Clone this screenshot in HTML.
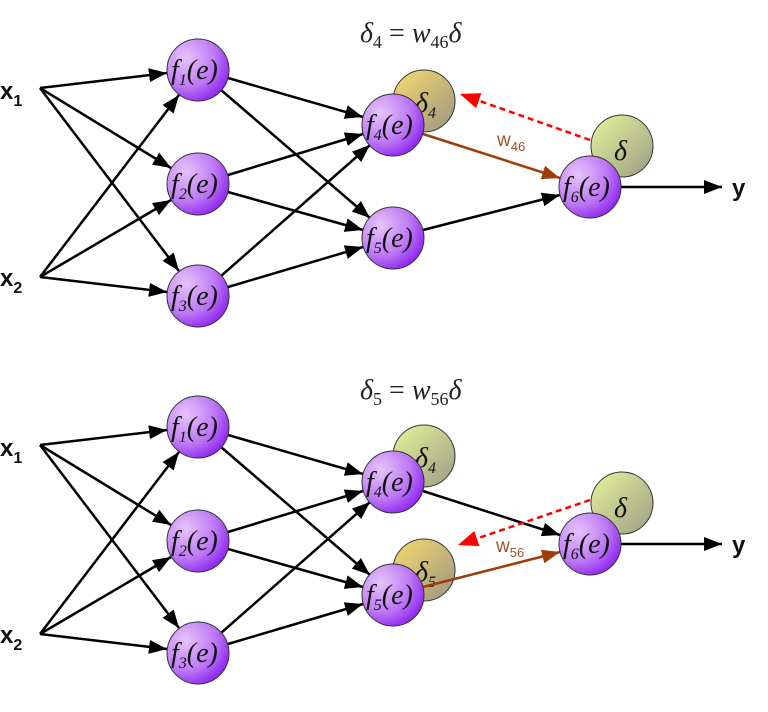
<!DOCTYPE html>
<html><head><meta charset="utf-8"><style>
html,body{margin:0;padding:0;background:#fff;width:768px;height:712px;overflow:hidden}
svg{display:block}
.lbl{font-family:"Liberation Sans",sans-serif;font-weight:bold;font-size:24px;fill:#111}
.sub{font-family:"Liberation Sans",sans-serif;font-size:16px;fill:#111}
.fn{font-family:"Liberation Serif",serif;font-style:italic;font-size:28px;fill:#111}
.fs{font-family:"Liberation Serif",serif;font-style:italic;font-size:16px;fill:#111}
.eq{font-family:"Liberation Serif",serif;font-style:italic;font-size:28px;fill:#222}
.eqs{font-family:"Liberation Serif",serif;font-style:normal;font-size:18px;fill:#222}
.w{font-family:"Liberation Sans",sans-serif;font-size:19px;fill:#a0522d}
.ws{font-family:"Liberation Sans",sans-serif;font-size:13px;fill:#a0522d}
</style></head><body>
<svg width="768" height="712" viewBox="0 0 768 712" xmlns="http://www.w3.org/2000/svg">
<defs>
<radialGradient id="gp" cx="0.3" cy="0.3" r="0.8"><stop offset="0" stop-color="#e6c4fb"/><stop offset="0.6" stop-color="#bd78f4"/><stop offset="1" stop-color="#8a1ff0"/></radialGradient>
<linearGradient id="gy" x1="0" y1="0" x2="1" y2="1"><stop offset="0" stop-color="#f6dc6c"/><stop offset="1" stop-color="#9c9484"/></linearGradient>
<linearGradient id="gg" x1="0" y1="0" x2="1" y2="1"><stop offset="0" stop-color="#e6f49a"/><stop offset="1" stop-color="#9c9c86"/></linearGradient>
<marker id="ab" markerUnits="userSpaceOnUse" markerWidth="20" markerHeight="16" refX="18" refY="7" orient="auto"><path d="M0,0 L18,7 L0,14 z" fill="#000"/></marker>
<marker id="abr" markerUnits="userSpaceOnUse" markerWidth="20" markerHeight="16" refX="18" refY="7" orient="auto"><path d="M0,0 L18,7 L0,14 z" fill="#a03c0a"/></marker>
<marker id="ar" markerUnits="userSpaceOnUse" markerWidth="22" markerHeight="18" refX="20" refY="8" orient="auto"><path d="M0,0 L20,8 L0,16 z" fill="#f00"/></marker>
</defs>

<!-- ===== TOP ===== -->
<text x="360" y="42" class="eq">δ<tspan class="eqs" dy="6">4</tspan><tspan dy="-6" font-style="normal"> = </tspan><tspan>w</tspan><tspan class="eqs" dy="6">46</tspan><tspan dy="-6">δ</tspan></text>
<g stroke="#000" stroke-width="2.5" fill="none" marker-end="url(#ab)">
<line x1="40" y1="88" x2="167" y2="73"/><line x1="40" y1="88" x2="171" y2="168"/><line x1="40" y1="88" x2="179" y2="271"/>
<line x1="40" y1="277" x2="179" y2="95"/><line x1="40" y1="277" x2="171" y2="200"/><line x1="40" y1="277" x2="167" y2="292"/>
<line x1="228" y1="78" x2="363" y2="117"/><line x1="221" y1="90" x2="370" y2="218"/>
<line x1="228" y1="175" x2="363" y2="134"/><line x1="228" y1="192" x2="363" y2="230"/>
<line x1="221" y1="276" x2="370" y2="145"/><line x1="228" y1="287" x2="363" y2="247"/>
<line x1="423" y1="230" x2="560" y2="195"/>
<line x1="621" y1="187" x2="722" y2="187"/>
</g>
<line x1="590" y1="140" x2="460" y2="94" stroke="#f00" stroke-width="2.5" stroke-dasharray="6,4" marker-end="url(#ar)"/>
<text x="497" y="146" class="w">w<tspan class="ws" dy="5">46</tspan></text>
<text x="0" y="99" class="lbl">x<tspan class="sub" dy="7">1</tspan></text>
<text x="0" y="286" class="lbl">x<tspan class="sub" dy="7">2</tspan></text>
<text x="732" y="196" class="lbl">y</text>
<circle cx="424" cy="101" r="31" fill="url(#gy)" stroke="#333" stroke-width="1"/>
<text x="415" y="112" class="fn">δ<tspan class="fs" dy="6">4</tspan></text>
<circle cx="622" cy="146" r="31" fill="url(#gg)" stroke="#333" stroke-width="1"/>
<text x="614" y="160" class="fn">δ</text>
<line x1="423" y1="134" x2="560" y2="178" stroke="#a03c0a" stroke-width="2.5" marker-end="url(#abr)"/>
<g stroke="#333" stroke-width="1" fill="url(#gp)">
<circle cx="198" cy="70" r="31"/><circle cx="198" cy="184" r="31"/><circle cx="198" cy="296" r="31"/>
<circle cx="393" cy="125" r="31"/><circle cx="393" cy="238" r="31"/><circle cx="590" cy="187" r="31"/>
</g>
<text x="171" y="79" class="fn">f<tspan class="fs" dy="6">1</tspan><tspan dy="-6">(e)</tspan></text>
<text x="171" y="193" class="fn">f<tspan class="fs" dy="6">2</tspan><tspan dy="-6">(e)</tspan></text>
<text x="171" y="305" class="fn">f<tspan class="fs" dy="6">3</tspan><tspan dy="-6">(e)</tspan></text>
<text x="366" y="134" class="fn">f<tspan class="fs" dy="6">4</tspan><tspan dy="-6">(e)</tspan></text>
<text x="366" y="247" class="fn">f<tspan class="fs" dy="6">5</tspan><tspan dy="-6">(e)</tspan></text>
<text x="563" y="196" class="fn">f<tspan class="fs" dy="6">6</tspan><tspan dy="-6">(e)</tspan></text>

<!-- ===== BOTTOM ===== -->
<g transform="translate(0,357)">
<text x="360" y="42" class="eq">δ<tspan class="eqs" dy="6">5</tspan><tspan dy="-6" font-style="normal"> = </tspan><tspan>w</tspan><tspan class="eqs" dy="6">56</tspan><tspan dy="-6">δ</tspan></text>
<g stroke="#000" stroke-width="2.5" fill="none" marker-end="url(#ab)">
<line x1="40" y1="88" x2="167" y2="73"/><line x1="40" y1="88" x2="171" y2="168"/><line x1="40" y1="88" x2="179" y2="271"/>
<line x1="40" y1="277" x2="179" y2="95"/><line x1="40" y1="277" x2="171" y2="200"/><line x1="40" y1="277" x2="167" y2="292"/>
<line x1="228" y1="78" x2="363" y2="117"/><line x1="221" y1="90" x2="370" y2="218"/>
<line x1="228" y1="175" x2="363" y2="134"/><line x1="228" y1="192" x2="363" y2="230"/>
<line x1="221" y1="276" x2="370" y2="145"/><line x1="228" y1="287" x2="363" y2="247"/>
<line x1="423" y1="134" x2="560" y2="178"/>
<line x1="621" y1="187" x2="722" y2="187"/>
</g>
<line x1="590" y1="143" x2="458" y2="188" stroke="#f00" stroke-width="2.5" stroke-dasharray="6,4" marker-end="url(#ar)"/>
<text x="496" y="195" class="w">w<tspan class="ws" dy="5">56</tspan></text>
<text x="0" y="99" class="lbl">x<tspan class="sub" dy="7">1</tspan></text>
<text x="0" y="286" class="lbl">x<tspan class="sub" dy="7">2</tspan></text>
<text x="732" y="196" class="lbl">y</text>
<circle cx="424" cy="99" r="31" fill="url(#gg)" stroke="#333" stroke-width="1"/>
<text x="415" y="110" class="fn">δ<tspan class="fs" dy="6">4</tspan></text>
<circle cx="424" cy="213" r="31" fill="url(#gy)" stroke="#333" stroke-width="1"/>
<text x="415" y="224" class="fn">δ<tspan class="fs" dy="6">5</tspan></text>
<circle cx="622" cy="146" r="31" fill="url(#gg)" stroke="#333" stroke-width="1"/>
<text x="614" y="160" class="fn">δ</text>
<line x1="423" y1="230" x2="560" y2="195" stroke="#a03c0a" stroke-width="2.5" marker-end="url(#abr)"/>
<g stroke="#333" stroke-width="1" fill="url(#gp)">
<circle cx="198" cy="70" r="31"/><circle cx="198" cy="184" r="31"/><circle cx="198" cy="296" r="31"/>
<circle cx="393" cy="125" r="31"/><circle cx="393" cy="238" r="31"/><circle cx="590" cy="187" r="31"/>
</g>
<text x="171" y="79" class="fn">f<tspan class="fs" dy="6">1</tspan><tspan dy="-6">(e)</tspan></text>
<text x="171" y="193" class="fn">f<tspan class="fs" dy="6">2</tspan><tspan dy="-6">(e)</tspan></text>
<text x="171" y="305" class="fn">f<tspan class="fs" dy="6">3</tspan><tspan dy="-6">(e)</tspan></text>
<text x="366" y="134" class="fn">f<tspan class="fs" dy="6">4</tspan><tspan dy="-6">(e)</tspan></text>
<text x="366" y="247" class="fn">f<tspan class="fs" dy="6">5</tspan><tspan dy="-6">(e)</tspan></text>
<text x="563" y="196" class="fn">f<tspan class="fs" dy="6">6</tspan><tspan dy="-6">(e)</tspan></text>
</g>
</svg>
</body></html>
